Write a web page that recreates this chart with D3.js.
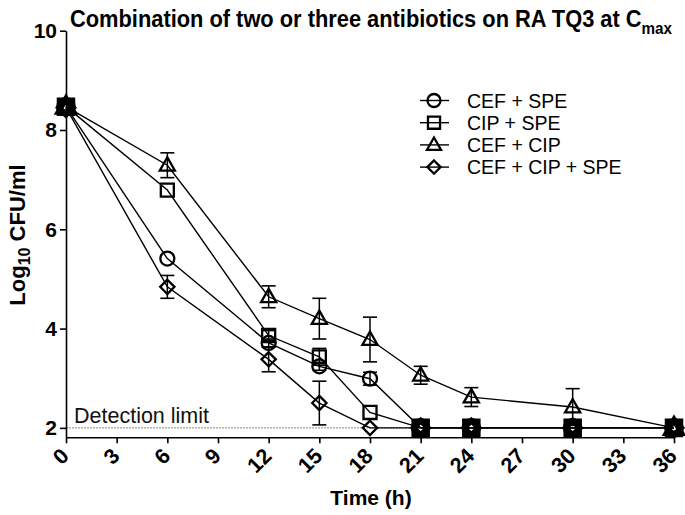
<!DOCTYPE html>
<html><head><meta charset="utf-8">
<script src="https://cdn.jsdelivr.net/npm/d3@7"></script>
<style>body{margin:0;background:#fff} svg{display:block}</style>
</head><body>
<svg id="chart" width="685" height="515"></svg>
<script>
// ---- data ----
const times = [0, 6, 12, 15, 18, 21, 24, 30, 36];
const xTicks = [0, 3, 6, 9, 12, 15, 18, 21, 24, 27, 30, 33, 36];
const yTicks = [2, 4, 6, 8, 10];
const seriesNames = ["CEF + SPE", "CIP + SPE", "CEF + CIP", "CEF + CIP + SPE"];
const seriesShapes = ["circle", "square", "triangle", "diamond"];
const cefSpe = [8.47, 5.41, 3.71, 3.24, 2.99, 2, 2, 2, 2];
const cefSpeErr = [0.03, 0.05, 0.08, 0.08, 0.13, 0, 0, 0, 0];
const cipSpe = [8.47, 6.79, 3.86, 3.43, 2.31, 2, 2, 2, 2];
const cipSpeErr = [0.03, 0.05, 0.10, 0.17, 0.05, 0, 0, 0, 0];
const cefCip = [8.47, 7.29, 4.64, 4.20, 3.78, 3.06, 2.62, 2.42, 2];
const cefCipErr = [0.03, 0.25, 0.22, 0.41, 0.45, 0.18, 0.19, 0.37, 0];
const cefCipSpe = [8.45, 4.84, 3.38, 2.50, 2.0, 2, 2, 2, 2];
const cefCipSpeErr = [0.03, 0.23, 0.25, 0.44, 0, 0, 0, 0, 0];
const detectionLimit = 2;

const seriesValues = [cefSpe, cipSpe, cefCip, cefCipSpe];
const seriesErrors = [cefSpeErr, cipSpeErr, cefCipErr, cefCipSpeErr];

// ---- layout ----
const svg = d3.select("#chart");
const x = d3.scaleLinear().domain([0, 36]).range([66, 674]);
const y = d3.scaleLinear().domain([1.81, 10]).range([437.3, 30.7]);
const FONT = "'Liberation Sans', Arial, Helvetica, sans-serif";

function shapePath(shape, r) {
  if (shape === "circle") {
    const p = d3.path(); p.arc(0, 0, r, 0, 2 * Math.PI); return p.toString();
  }
  if (shape === "square") {
    const s = r * 0.93;
    return `M${-s},${-s}H${s}V${s}H${-s}Z`;
  }
  if (shape === "triangle") {
    const h = r * 1.9, w = r * 1.08;
    return `M0,${-h * 0.6}L${w},${h * 0.4}L${-w},${h * 0.4}Z`;
  }
  const d = r * 1.02;
  return `M0,${-d}L${d},0L0,${d}L${-d},0Z`;
}

// count of series sharing the same value at a time point (overlapping markers look dark)
function overlapCount(i, v) {
  return seriesValues.filter(vals => Math.abs(vals[i] - v) < 0.05).length;
}

// detection limit
svg.append("line")
  .attr("x1", x(0)).attr("x2", x(36))
  .attr("y1", y(detectionLimit)).attr("y2", y(detectionLimit))
  .attr("stroke", "#8a8a8a").attr("stroke-width", 1).attr("stroke-dasharray", "2,1");
svg.append("text").attr("x", 74).attr("y", 423)
  .attr("font-family", FONT).attr("font-size", 21.5).attr("fill", "#111")
  .text("Detection limit");

// axes
const yAxis = d3.axisLeft(y).tickValues(yTicks).tickSize(6).tickPadding(3).tickSizeOuter(0).tickFormat(d3.format("d"));
const gy = svg.append("g").attr("transform", `translate(${x(0)},0)`).call(yAxis);
gy.selectAll("text").attr("font-family", FONT).attr("font-size", 21).attr("font-weight", "bold").attr("fill", "#000");
gy.selectAll("line, path").attr("stroke", "#000").attr("stroke-width", 1.6);

const xAxis = d3.axisBottom(x).tickValues(xTicks).tickSize(6).tickSizeOuter(0).tickFormat("");
const gx = svg.append("g").attr("transform", `translate(0,${y(1.81)})`).call(xAxis);
gx.selectAll("line, path").attr("stroke", "#000").attr("stroke-width", 1.6);
svg.append("g").selectAll("text").data(xTicks).join("text")
  .attr("transform", d => `translate(${x(d) - 1},452) rotate(-45)`)
  .attr("text-anchor", "end").attr("dy", "0.35em")
  .attr("font-family", FONT).attr("font-size", 21.5).attr("font-weight", "bold")
  .text(d => d);

// series
const line = d3.line().x(d => x(d.t)).y(d => y(d.v));
seriesValues.forEach((vals, si) => {
  const pts = vals.map((v, i) => ({ i, t: times[i], v, e: seriesErrors[si][i] }));
  const g = svg.append("g");
  g.append("path").datum(pts).attr("d", line).attr("fill", "none")
    .attr("stroke", "#000").attr("stroke-width", 1.4);
  const eb = g.selectAll("g.eb").data(pts.filter(p => p.e > 0.06)).join("g");
  eb.append("line").attr("x1", p => x(p.t)).attr("x2", p => x(p.t))
    .attr("y1", p => y(p.v + p.e)).attr("y2", p => y(p.v - p.e))
    .attr("stroke", "#000").attr("stroke-width", 1.5);
  [1, -1].forEach(sgn => {
    eb.append("line").attr("x1", p => x(p.t) - 7).attr("x2", p => x(p.t) + 7)
      .attr("y1", p => y(p.v + sgn * p.e)).attr("y2", p => y(p.v + sgn * p.e))
      .attr("stroke", "#000").attr("stroke-width", 1.6);
  });
  g.selectAll("path.m").data(pts).join("path").attr("class", "m")
    .attr("transform", p => `translate(${x(p.t)},${y(p.v)})`)
    .attr("d", shapePath(seriesShapes[si], 7))
    .attr("fill", "none").attr("stroke", "#000")
    .attr("stroke-width", p => overlapCount(p.i, p.v) >= 3 ? 5.5 : 2.3);
});

// legend
const lg = svg.append("g").selectAll("g").data(seriesNames).join("g")
  .attr("transform", (d, i) => `translate(434,${100.5 + i * 22.2})`);
lg.append("line").attr("x1", -14).attr("x2", 15).attr("stroke", "#000").attr("stroke-width", 1.4);
lg.append("path").attr("d", (d, i) => shapePath(seriesShapes[i], 6.5))
  .attr("fill", "none").attr("stroke", "#000").attr("stroke-width", 2.3);
lg.append("text").attr("x", 33).attr("dy", "0.36em")
  .attr("font-family", FONT).attr("font-size", 19.5).text(d => d);

// title (main part + subscript)
const title = svg.append("text").attr("x", 70).attr("y", 27)
  .attr("font-family", "'Liberation Sans Narrow', 'Arial Narrow', " + FONT)
  .attr("font-weight", "bold");
title.append("tspan").attr("font-size", 23)
  .text("Combination of two or three antibiotics on RA TQ3 at C");
title.append("tspan").attr("font-size", 16).attr("dy", 7).text("max");
// stretch to match the reference width
const tw = title.node().getComputedTextLength();
title.attr("textLength", 602).attr("lengthAdjust", "spacingAndGlyphs");

// axis titles
const yl = svg.append("text").attr("transform", "translate(17,235) rotate(-90)")
  .attr("text-anchor", "middle").attr("dy", "0.35em")
  .attr("font-family", FONT).attr("font-size", 22).attr("font-weight", "bold");
yl.append("tspan").text("Log");
yl.append("tspan").attr("font-size", 16).attr("dy", "0.3em").text("10");
yl.append("tspan").attr("dy", "-0.22em").text(" CFU/ml");

svg.append("text").attr("x", 371).attr("y", 505).attr("text-anchor", "middle")
  .attr("font-family", FONT).attr("font-size", 21).attr("font-weight", "bold")
  .text("Time (h)");
</script>
</body></html>
